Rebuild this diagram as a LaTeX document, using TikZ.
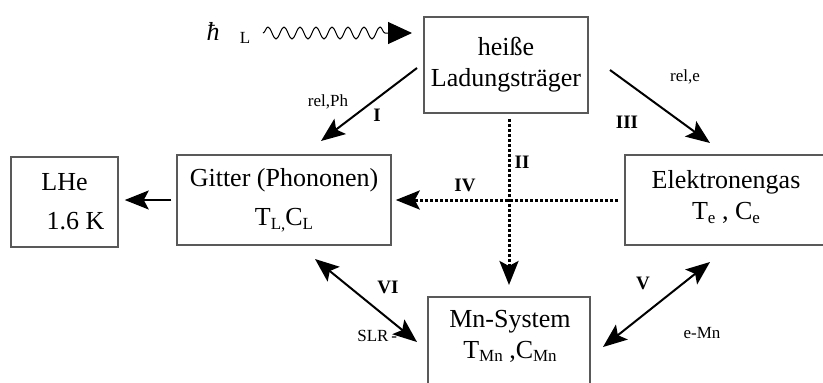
\documentclass[tikz,border=0pt]{standalone}
\usepackage{fontspec}
\setmainfont{Liberation Serif}
\usetikzlibrary{arrows.meta,decorations.pathmorphing}

\newcommand{\lowsub}[1]{\raisebox{-0.3ex}{\fontsize{8.5}{10}\selectfont #1}}

\tikzset{
  box/.style={draw=black!65,line width=0.75pt,inner sep=0pt},
  big/.style={font=\fontsize{13}{15.5}\selectfont,align=center,inner sep=0pt},
  bigwide/.style={font=\fontsize{13}{19.5}\selectfont,align=center,inner sep=0pt},
  small/.style={font=\fontsize{8.5}{10}\selectfont,inner sep=0pt},
  num/.style={font=\fontsize{9.5}{11}\selectfont\bfseries,inner sep=0pt},
  arr/.style={line width=1pt,-{Stealth[length=12pt,width=9.5pt,inset=2.5pt]}},
  dblarr/.style={line width=1pt,{Stealth[length=12pt,width=9.5pt,inset=2.5pt]}-{Stealth[length=12pt,width=9.5pt,inset=2.5pt]}},
  dotarr/.style={arr,line width=1.5pt,dash pattern=on 1.5pt off 1pt},
  wave/.style={line width=0.5pt,decorate,
    decoration={snake,segment length=8pt,amplitude=3pt,post length=12pt},
    -{Triangle[length=12pt,width=11pt]}},
}

\begin{document}
\begin{tikzpicture}[x=0.5pt,y=-0.5pt]
  \useasboundingbox (0,0) rectangle (823,382);
  \clip (0,0) rectangle (823,382);
  % boxes
  \node[box,big,minimum width=82pt,minimum height=48pt] (hot) at (506,65) {heiße\\Ladungsträger};
  \node[box,bigwide,minimum width=107pt,minimum height=45pt] (gitter) at (284,200)
    {Gitter (Phononen)\\T\lowsub{L,}C\lowsub{L}};
  \node[box,bigwide,minimum width=53.5pt,minimum height=45pt] (lhe) at (64.5,202) {LHe\\\hspace*{11pt}1.6 K};
  \node[box,minimum width=115pt,minimum height=45pt,anchor=west] (elek) at (624,200) {};
  \node[big] (elektxt) at (726,197) {Elektronengas\\T\lowsub{e} , C\lowsub{e}};
  \node[box,minimum width=81pt,minimum height=70pt,anchor=north] (mn) at (509,296) {};
  \node[big] (mntxt) at (510,336) {Mn-System\\T\lowsub{Mn} ,C\lowsub{Mn}};

  % photon
  \coordinate (wstart) at (263,33);
  \coordinate (wend) at (412,33);
  \draw[wave] (wstart) -- (wend);
  \node[big] (hbar) at (213,31) {\textit{ħ}};
  \node[small] (hbarL) at (245,38) {L};

  % relaxation paths
  \coordinate (Ia) at (417,68);
  \coordinate (Ib) at (321,141);
  \draw[arr] (Ia) -- (Ib);
  \coordinate (IIIa) at (610,70);
  \coordinate (IIIb) at (710,143);
  \draw[arr] (IIIa) -- (IIIb);
  \draw[dotarr,shorten <=2.5pt,shorten >=5.5pt] (hot.south -| mn.north) -- (mn.north);
  \draw[dotarr,shorten <=3pt,shorten >=2pt] (elek.west) -- (elek.west -| gitter.east);
  \draw[arr,shorten <=2.5pt,shorten >=3pt] (gitter.west) -- (gitter.west -| lhe.east);
  \coordinate (VIa) at (315,259);
  \coordinate (VIb) at (417,342);
  \draw[dblarr] (VIa) -- (VIb);
  \coordinate (Va) at (603,347);
  \coordinate (Vb) at (710,262);
  \draw[dblarr] (Va) -- (Vb);

  % labels
  \node[small] (relph) at (328,102) {rel,Ph};
  \node[num] (one) at (377,115) {I};
  \node[num] (three) at (627,122) {III};
  \node[small] (rele) at (685,77) {rel,e};
  \node[num] (two) at (522,162) {II};
  \node[num] (four) at (465,185) {IV};
  \node[num] (six) at (388,287) {VI};
  \node[num] (five) at (643,283) {V};
  \node[small,anchor=west] (slr) at (357,336) {SLR\,-};
  \node[small] (emn) at (702,333) {e-Mn};
\end{tikzpicture}
\end{document}
